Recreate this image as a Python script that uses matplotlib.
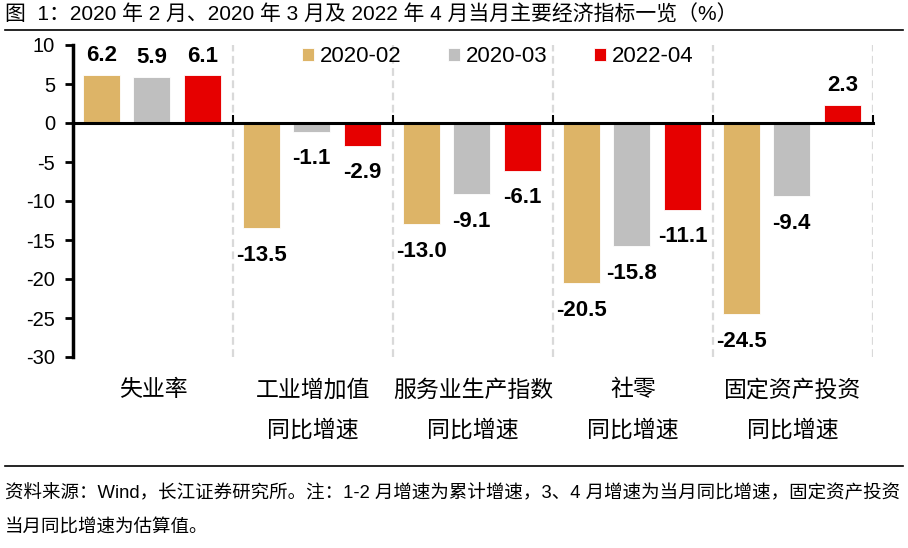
import matplotlib
matplotlib.use('Agg')
import matplotlib.pyplot as plt
from matplotlib.transforms import blended_transform_factory
import numpy as np

plt.rcParams['font.family'] = ['Liberation Sans', 'Noto Sans CJK SC', 'DejaVu Sans']
plt.rcParams['axes.unicode_minus'] = False

categories = ["失业率", "工业增加值\n同比增速", "服务业生产指数\n同比增速", "社零\n同比增速", "固定资产投资\n同比增速"]
series_names = ["2020-02", "2020-03", "2022-04"]
vals_2002 = [6.2, -13.5, -13.0, -20.5, -24.5]
vals_2003 = [5.9, -1.1, -9.1, -15.8, -9.4]
vals_2204 = [6.1, -2.9, -6.1, -11.1, 2.3]
colors = ["#DDB467", "#BFBFBF", "#E60000"]
yticks = [10, 5, 0, -5, -10, -15, -20, -25, -30]

fig = plt.figure(figsize=(9.08, 5.48), dpi=100)
ax = fig.add_axes([73 / 908, 1 - 357 / 548, 800 / 908, 312 / 548])

x = np.arange(len(categories))
width = 0.23
offsets = [-0.32, -0.01, 0.31]
for vals, off, c, name in zip([vals_2002, vals_2003, vals_2204], offsets, colors, series_names):
    bars = ax.bar(x + off, vals, width, color=c, label=name, edgecolor='white', linewidth=0.6)
    for b, v in zip(bars, vals):
        cx = b.get_x() + b.get_width() / 2
        if v >= 0:
            ax.annotate(f"{v:.1f}", (cx, v), xytext=(0, 10), textcoords='offset points',
                        ha='center', va='baseline', fontsize=16, fontweight='bold')
        else:
            ax.annotate(f"{v:.1f}", (cx, v), xytext=(0, -12), textcoords='offset points',
                        ha='center', va='top', fontsize=16, fontweight='bold')

# dashed group separators
for sep in np.arange(0.5, len(categories), 1.0):
    ax.axvline(sep, color='#D9D9D9', linestyle=(0, (3.5, 2)), linewidth=1.6, zorder=0)

ax.set_xlim(-0.5, len(categories) - 0.5)
ax.set_ylim(-30, 10)
ax.set_yticks(yticks)
ax.set_yticklabels([str(t) for t in yticks], fontsize=14.5)
ax.tick_params(axis='y', direction='out', length=6, width=2, pad=7)

for s in ['top', 'right']:
    ax.spines[s].set_visible(False)
ax.spines['left'].set_linewidth(2.5)
ax.spines['bottom'].set_position(('data', 0))
ax.spines['bottom'].set_linewidth(2.2)
ax.set_xticks(np.arange(0.5, len(categories), 1.0))
ax.set_xticklabels([])
ax.tick_params(axis='x', direction='in', length=6, width=1.5)

# category labels below the plot
trans = blended_transform_factory(ax.transData, fig.transFigure)
for xi, cat in zip(x, categories):
    for li, line in enumerate(cat.split("\n")):
        ax.text(xi, 1 - (390 + 40 * li) / 548, line, transform=trans, ha='center',
                va='center', fontsize=16.5)

ax.legend(loc='center left', bbox_to_anchor=(229 / 800, 1 - 12 / 312), ncol=3, frameon=False,
          fontsize=16, handlelength=0.55, handleheight=0.55, columnspacing=2.1,
          handletextpad=0.25, borderaxespad=0, borderpad=0)

# title and footer
fig.text(5 / 908, 1 - 15 / 548, "图  1：2020 年 2 月、2020 年 3 月及 2022 年 4 月当月主要经济指标一览（%）",
         ha='left', va='center', fontsize=15)
fig.add_artist(plt.Line2D([5 / 908, 903 / 908], [1 - 30 / 548, 1 - 30 / 548], color='black', linewidth=1.2))
fig.add_artist(plt.Line2D([5 / 908, 903 / 908], [1 - 466 / 548, 1 - 466 / 548], color='black', linewidth=1.2))
fig.text(5 / 908, 1 - 493 / 548,
         "资料来源：Wind，长江证券研究所。注：1-2 月增速为累计增速，3、4 月增速为当月同比增速，固定资产投资",
         ha='left', va='center', fontsize=13.3)
fig.text(5 / 908, 1 - 528 / 548, "当月同比增速为估算值。", ha='left', va='center', fontsize=13.3)

fig.savefig("out.png", dpi=100)
